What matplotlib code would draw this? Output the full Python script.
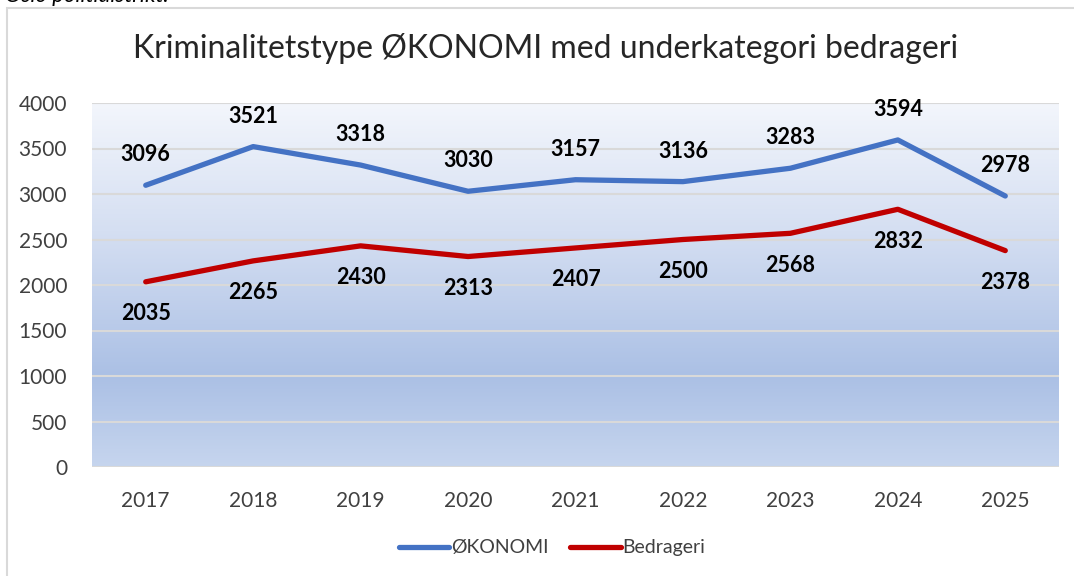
import matplotlib
matplotlib.use("Agg")
import matplotlib.pyplot as plt
import matplotlib.patches as mpatches
from matplotlib.colors import LinearSegmentedColormap
import numpy as np

years = ["2017", "2018", "2019", "2020", "2021", "2022", "2023", "2024", "2025"]
okonomi = [3096, 3521, 3318, 3030, 3157, 3136, 3283, 3594, 2978]
bedrageri = [2035, 2265, 2430, 2313, 2407, 2500, 2568, 2832, 2378]
yticks = [0, 500, 1000, 1500, 2000, 2500, 3000, 3500, 4000]

W, H = 1074, 576
fig = plt.figure(figsize=(W / 100, H / 100), dpi=100)
plt.rcParams['font.family'] = ['Lato', 'DejaVu Sans']

# plot area in pixels: left 92, right 1059, top 103, bottom 467
ax = fig.add_axes([92 / W, 1 - 467 / H, (1059 - 92) / W, (467 - 103) / H])

# outer chart frame
frame = mpatches.Rectangle((7 / W, -0.05), 1.05, 1 - 8 / H + 0.05, transform=fig.transFigure,
                           fill=False, edgecolor="#d9d9d9", linewidth=1.5, zorder=0)
fig.patches.append(frame)

# cut-off caption above the frame
fig.text(5 / W, 1 - 2 / H, "Oslo politidistrikt.", fontsize=16, style="italic",
         va="baseline", ha="left", color="#000000")

# gradient fill of plot area
cmap = LinearSegmentedColormap.from_list(
    "grad", [(0.0, "#f3f6fc"), (0.35, "#d5dff2"), (0.75, "#abc0e5"), (1.0, "#c6d5ee")])
grad = np.linspace(0, 1, 256).reshape(-1, 1)
ax.imshow(grad, aspect="auto", cmap=cmap, extent=[0, 1, 0, 1], transform=ax.transAxes,
          zorder=0, interpolation="bilinear")

x = np.arange(len(years))
ax.set_xlim(-0.5, len(years) - 0.5)
ax.set_ylim(0, 4000)

for yv in yticks:
    ax.axhline(yv, color="#d9d9d9", linewidth=1.5, zorder=1)

l1, = ax.plot(x, okonomi, color="#4472c4", linewidth=3.8, solid_capstyle="round", zorder=3, label="ØKONOMI")
l2, = ax.plot(x, bedrageri, color="#c00000", linewidth=3.8, solid_capstyle="round", zorder=3, label="Bedrageri")

for xi, v in zip(x, okonomi):
    ax.annotate(str(v), (xi, v), xytext=(0, 22), textcoords="offset points", ha="center",
                va="center", fontsize=15.5, fontweight="bold", color="#000000", zorder=4)
for xi, v in zip(x, bedrageri):
    ax.annotate(str(v), (xi, v), xytext=(0, -23), textcoords="offset points", ha="center",
                va="center", fontsize=15.5, fontweight="bold", color="#000000", zorder=4)

ax.set_xticks(x)
ax.set_xticklabels(years)
ax.set_yticks(yticks)
ax.tick_params(axis="both", length=0, labelsize=15, labelcolor="#404040")
ax.tick_params(axis="x", pad=17)
ax.tick_params(axis="y", pad=18)
for s in ax.spines.values():
    s.set_visible(False)

fig.text(546 / W, 1 - 48 / H, "Kriminalitetstype ØKONOMI med underkategori bedrageri",
         fontsize=23, ha="center", va="center", color="#262626")

fig.legend(handles=[l1, l2], loc="center", bbox_to_anchor=(552 / W, 1 - 548 / H),
           ncol=2, frameon=False, fontsize=14, handlelength=2.6, handletextpad=0.1,
           columnspacing=1.1, labelcolor="#404040")

fig.savefig("out.png", dpi=100)
